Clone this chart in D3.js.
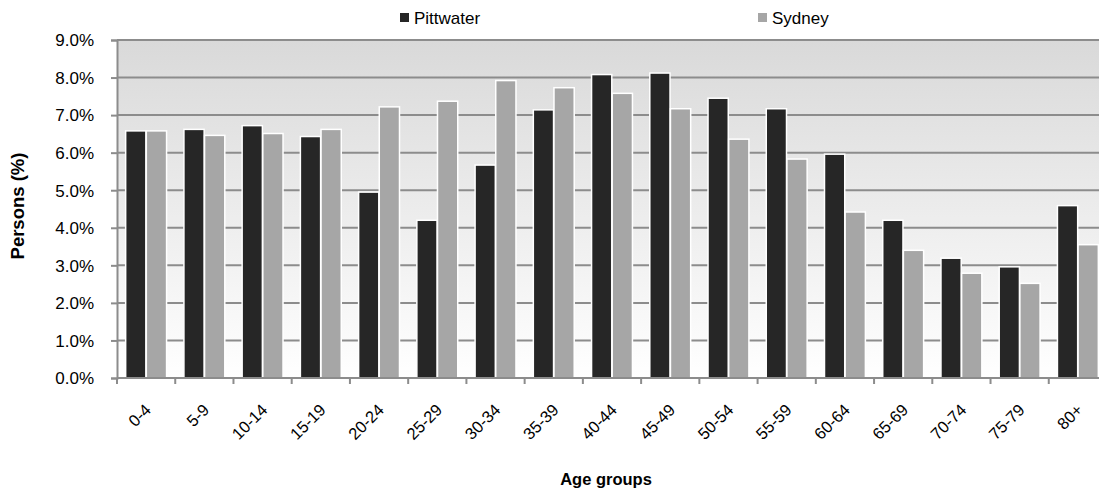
<!DOCTYPE html>
<html><head><meta charset="utf-8">
<script src="https://cdn.jsdelivr.net/npm/d3@7"></script>
<style>body{margin:0;background:#fff;} svg{display:block;}</style>
</head><body>
<svg id="chart" width="1099" height="491"></svg>
<script>
const categories = ["0-4","5-9","10-14","15-19","20-24","25-29","30-34","35-39","40-44","45-49","50-54","55-59","60-64","65-69","70-74","75-79","80+"];
const pittwater = [6.58,6.62,6.72,6.43,4.95,4.2,5.67,7.14,8.08,8.12,7.45,7.17,5.96,4.2,3.19,2.96,4.59];
const sydney = [6.58,6.46,6.51,6.62,7.22,7.37,7.92,7.73,7.58,7.17,6.36,5.83,4.42,3.4,2.79,2.52,3.55];
const seriesNames = ["Pittwater","Sydney"];
const yTicks = [0,1,2,3,4,5,6,7,8,9];

(function(){
const font = "'Liberation Sans Narrow','Arial Narrow','Liberation Sans',Arial,sans-serif";
const colors = ["#262626","#a6a6a6"];
const svg = d3.select("#chart");
const pl = 117, pr = 1107, pt = 40, pb = 378;

const x = d3.scaleBand().domain(categories).range([pl, pr]).paddingInner(0).paddingOuter(0);
const y = d3.scaleLinear().domain([0,9]).range([pb, pt]);

const defs = svg.append("defs");
const grad = defs.append("linearGradient").attr("id","bg").attr("x1",0).attr("y1",0).attr("x2",0).attr("y2",1);
grad.append("stop").attr("offset","0%").attr("stop-color","#d9d9d9");
grad.append("stop").attr("offset","100%").attr("stop-color","#ffffff");

svg.append("rect").attr("x",pl).attr("y",pt).attr("width",pr-pl).attr("height",pb-pt).attr("fill","url(#bg)");

svg.append("g").selectAll("line").data(yTicks.filter(d=>d>0)).join("line")
  .attr("x1",pl).attr("x2",pr).attr("y1",d=>y(d)).attr("y2",d=>y(d))
  .attr("stroke","#8c8c8c").attr("stroke-width",2);

const inner = d3.scaleBand().domain(seriesNames).range([0, x.bandwidth()]).paddingInner(0.02).paddingOuter(0.42);
const data = categories.map((c,i)=>({c, vals:[pittwater[i], sydney[i]]}));
svg.append("g").selectAll("g").data(data).join("g")
  .attr("transform",d=>`translate(${x(d.c)},0)`)
  .selectAll("rect").data(d=>d.vals.map((v,j)=>({v,j}))).join("rect")
  .attr("x",d=>inner(seriesNames[d.j]))
  .attr("width",inner.bandwidth())
  .attr("y",d=>y(d.v))
  .attr("height",d=>pb-y(d.v))
  .attr("fill",d=>colors[d.j])
  .attr("stroke","#fff").attr("stroke-width",1.5);

const yAxis = svg.append("g").attr("transform",`translate(${pl},0)`)
  .call(d3.axisLeft(y).tickValues(yTicks).tickFormat(d=>d.toFixed(1)+"%").tickSize(6).tickPadding(17));
yAxis.select(".domain").attr("stroke","#8c8c8c").attr("stroke-width",2);
yAxis.selectAll(".tick line").attr("stroke","#8c8c8c").attr("stroke-width",2);
yAxis.selectAll("text").attr("font-family",font).attr("font-size",17).attr("fill","#000").attr("dy","0.34em");

const xg = svg.append("g").attr("transform",`translate(0,${pb})`);
xg.append("line").attr("x1",pl).attr("x2",pr).attr("stroke","#8c8c8c").attr("stroke-width",2);
const bounds = d3.range(categories.length+1).map(i=>pl + i*x.step());
xg.selectAll("line.t").data(bounds).join("line").attr("class","t")
  .attr("x1",d=>d).attr("x2",d=>d).attr("y1",0).attr("y2",6)
  .attr("stroke","#8c8c8c").attr("stroke-width",2);
xg.selectAll("text").data(categories).join("text")
  .attr("transform",d=>`translate(${x(d)+x.bandwidth()/2+6},${33}) rotate(-45)`)
  .attr("text-anchor","end")
  .attr("font-family",font).attr("font-size",16.5).attr("fill","#000")
  .text(d=>d);

svg.append("text").attr("x",606).attr("y",485).attr("text-anchor","middle")
  .attr("font-family",font).attr("font-size",16.5).attr("font-weight","bold").text("Age groups");
svg.append("text").attr("transform","translate(24,206) rotate(-90)").attr("text-anchor","middle")
  .attr("font-family",font).attr("font-size",18.5).attr("font-weight","bold").text("Persons (%)");

const legX = [400, 758];
const lg = svg.append("g").selectAll("g").data(seriesNames).join("g")
  .attr("transform",(d,i)=>`translate(${legX[i]},0)`);
lg.append("rect").attr("x",0).attr("y",13).attr("width",9).attr("height",9).attr("fill",(d,i)=>colors[i]);
lg.append("text").attr("x",14).attr("y",24).attr("font-family",font).attr("font-size",17).attr("fill","#000").text(d=>d);
})();
</script>
</body></html>
